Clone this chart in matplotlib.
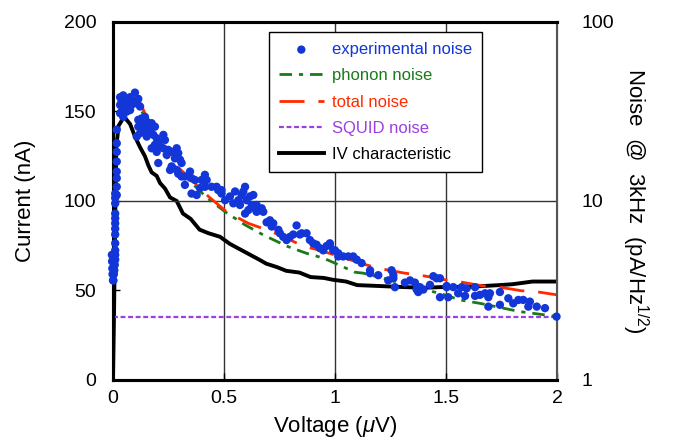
import matplotlib
matplotlib.use("Agg")
import matplotlib.pyplot as plt
from matplotlib.ticker import FixedLocator, FixedFormatter, NullLocator

plt.rcParams['font.family'] = ['Liberation Sans', 'DejaVu Sans']
plt.rcParams['mathtext.fontset'] = 'custom'
plt.rcParams['mathtext.rm'] = 'Liberation Sans'
plt.rcParams['mathtext.it'] = 'Liberation Sans:italic'

# IV characteristic: voltage (uV) vs current (nA)
iv_v = [0, 0.005, 0.01, 0.015, 0.025, 0.05, 0.077, 0.099, 0.122, 0.144, 0.159, 0.174,
        0.197, 0.212, 0.234, 0.257, 0.287, 0.315, 0.35, 0.39, 0.43, 0.482, 0.527, 0.572,
        0.632, 0.662, 0.69, 0.74, 0.78, 0.84, 0.89, 0.95, 0.99, 1.05, 1.1, 1.2, 1.29,
        1.4, 1.5, 1.6, 1.74, 1.8, 1.89, 2.0]
iv_i = [0, 40, 90, 130, 142, 147, 143, 136, 130, 125, 120, 116,
        114, 110, 107, 102, 100, 93, 90, 84, 82, 80, 76, 73,
        69, 67, 65, 63, 61, 60, 57.5, 57, 56, 55, 53, 52.5, 52,
        51.5, 52, 52, 53, 53.5, 55, 55]

# total noise model (pA/Hz^1/2)
tot_v = [0.12, 0.144, 0.257, 0.369, 0.43, 0.512, 0.61, 0.692, 0.745, 0.857, 0.932, 1.02,
         1.14, 1.2, 1.315, 1.375, 1.495, 1.555, 1.668, 1.728, 1.841, 1.909, 2.0]
tot_n = [35.9, 30.9, 17.0, 12.6, 10.6, 8.7, 7.5, 6.9, 6.5, 5.6, 5.3, 4.9,
         4.4, 4.2, 3.95, 3.87, 3.63, 3.55, 3.35, 3.32, 3.15, 3.11, 2.99]

# phonon noise model
pho_v = [0.13, 0.174, 0.249, 0.42, 0.505, 0.595, 0.677, 0.782, 0.872, 0.947, 0.99, 1.09,
         1.128, 1.218, 1.3, 1.383, 1.443, 1.473, 1.563, 1.653, 1.833, 1.923, 2.0]
pho_n = [31.6, 25.0, 17.0, 10.5, 8.7, 7.35, 6.46, 5.6, 5.1, 4.8, 4.55, 4.0,
         3.95, 3.7, 3.47, 3.25, 3.11, 3.05, 2.8, 2.68, 2.41, 2.33, 2.26]

# SQUID noise level
squid_v = [0, 2.0]
squid_n = [2.25, 2.25]

# experimental noise points
exp_v = [0.032, 0.046, 0.039, 0.062, 0.077, 0.099, 0.092, 0.114, 0.107, 0.069, 0.054, 0.032,
         0.077, 0.084, 0.062, 0.039, 0.122, 0.032, 0.046,
         0.114, 0.129, 0.144, 0.152, 0.159, 0.137, 0.114, 0.174, 0.189, 0.144, 0.167, 0.182,
         0.152, 0.122, 0.107, 0.197, 0.204, 0.227, 0.234, 0.189, 0.212, 0.174, 0.197, 0.227,
         0.249, 0.242, 0.264, 0.287, 0.294, 0.279, 0.302, 0.309, 0.264, 0.257, 0.287, 0.204,
         0.324, 0.347, 0.309, 0.294, 0.354, 0.324, 0.369, 0.399, 0.414, 0.422, 0.414, 0.392,
         0.444, 0.467, 0.474, 0.377, 0.354, 0.489,
         0.489, 0.505, 0.527, 0.542, 0.550, 0.565, 0.580, 0.595, 0.587, 0.572, 0.602, 0.617,
         0.625, 0.632, 0.640, 0.647, 0.610, 0.595, 0.662, 0.677, 0.647, 0.670, 0.692, 0.707,
         0.722, 0.715, 0.745, 0.752, 0.767, 0.782, 0.797, 0.812, 0.827, 0.842, 0.850, 0.872,
         0.887, 0.902, 0.917, 0.932, 0.947, 0.962, 0.977, 0.992, 1.015,
         0.977, 1.0, 1.015, 1.037, 1.06, 1.082, 1.098, 1.12, 1.158, 1.158, 1.195, 1.24,
         1.255, 1.263, 1.263, 1.27, 1.315, 1.338, 1.36, 1.368, 1.383, 1.375, 1.398, 1.428,
         1.443, 1.458, 1.473, 1.503,
         1.473, 1.503, 1.533, 1.571, 1.593, 1.631, 1.51, 1.555, 1.586, 1.631, 1.653, 1.676,
         1.698, 1.691, 1.743, 1.691, 1.743, 1.781, 1.803, 1.826, 1.848, 1.878, 1.871, 1.909,
         1.946, 1.998,
         0.017, 0.017, 0.017, 0.017, 0.017, 0.017, 0.017, 0.017,
         0.01, 0.01, 0.01, 0.01, 0.01, 0.01, 0.01, 0.01, 0.01, 0.01, 0.01, 0.01,
         0.008, 0.006, 0.004, 0.002,
         -0.005, -0.004, -0.003, -0.002, 0.0, 0.002]
exp_n = [38.0, 38.9, 36.3, 37.2, 38.0, 40.3, 36.3, 37.2, 35.1, 35.1, 33.7, 34.4,
         32.2, 34.4, 31.6, 31.6, 33.7, 30.9, 29.5,
         28.4, 28.9, 29.5, 27.7, 26.0, 26.6, 26.0, 27.2, 26.0, 25.0, 24.4, 23.4,
         22.9, 23.9, 22.9, 22.4, 21.4, 23.4, 21.9, 20.6, 20.1, 19.7, 18.8, 19.7,
         19.3, 18.1, 18.8, 19.7, 18.5, 17.3, 17.0, 16.3, 15.6, 14.9, 14.9, 16.3,
         13.7, 14.6, 13.7, 14.2, 13.4, 12.3, 13.1, 13.1, 14.0, 13.1, 12.0, 11.8,
         12.0, 12.0, 11.5, 10.8, 11.0, 11.0,
         11.5, 10.1, 10.6, 9.7, 11.3, 10.1, 10.8, 12.0, 11.3, 9.5, 10.1, 10.6,
         9.5, 10.8, 9.1, 8.7, 8.9, 8.5, 8.9, 8.7, 9.5, 9.1, 7.6, 7.8,
         7.5, 7.2, 6.9, 6.6, 6.3, 6.05, 6.3, 6.5, 7.3, 6.5, 6.6, 6.6,
         6.05, 5.8, 5.7, 5.45, 5.3, 5.6, 5.8, 5.3, 5.1,
         5.7, 5.3, 4.9, 4.9, 4.9, 4.9, 4.7, 4.5, 4.1, 3.95, 3.85, 3.6,
         4.1, 3.85, 3.7, 3.3, 3.5, 3.6, 3.5, 3.2, 3.3, 3.1, 3.2, 3.4,
         3.8, 3.7, 2.9, 3.3,
         3.7, 3.35, 3.3, 3.3, 3.25, 3.3, 2.9, 3.05, 2.95, 2.95, 2.99, 3.05,
         3.05, 2.9, 3.1, 2.57, 2.63, 2.86, 2.68, 2.8, 2.8, 2.74, 2.57, 2.57,
         2.52, 2.26,
         25.0, 21.0, 18.8, 16.6, 14.6, 13.4, 12.0, 10.8,
         11.0, 10.4, 9.7, 8.5, 8.0, 7.5, 7.0, 6.5, 5.8, 5.3, 5.0, 4.7,
         4.4, 4.1, 3.9, 3.6,
         5.0, 4.6, 4.2, 3.9, 3.6, 4.8]

blue = '#1236d8'
green = '#1a7a1a'
red = '#ff2a00'
purple = '#9b3fe0'

fig = plt.figure(figsize=(6.86, 4.42), dpi=100)
ax = fig.add_axes([0.1647, 0.1403, 0.6472, 0.81])
ax2 = ax.twinx()

# IV on the linear current axis
iv_line, = ax.plot(iv_v, iv_i, color='black', lw=2.8, zorder=3, solid_joinstyle='miter')
ax.set_xlim(0, 2)
ax.set_ylim(0, 200)
ax.set_xticks([0, 0.5, 1, 1.5, 2])
ax.set_xticklabels(['0', '0.5', '1', '1.5', '2'])
ax.set_yticks([0, 50, 100, 150, 200])
ax.tick_params(axis='both', direction='in', labelsize=14, length=5, width=1)
ax.tick_params(axis='x', pad=7)
ax.tick_params(axis='y', pad=12)
ax.grid(axis='x', color='#333333', lw=1)
ax.set_xlabel(r'Voltage ($\mathit{\mu}$V)', fontsize=16, labelpad=5)
ax.set_ylabel('Current (nA)', fontsize=16, labelpad=20)

# noise on the log axis
ax2.set_yscale('log')
ax2.set_ylim(1, 100)
ax2.yaxis.set_major_locator(FixedLocator([1, 10, 100]))
ax2.yaxis.set_major_formatter(FixedFormatter(['1', '10', '100']))
ax2.yaxis.set_minor_locator(NullLocator())
ax2.tick_params(axis='y', length=0, labelsize=14, pad=18)
ax2.grid(axis='y', color='#333333', lw=1)
sq_line, = ax2.plot(squid_v, squid_n, color=purple, lw=1.6, dashes=(2.2, 1.2))
pho_line, = ax2.plot(pho_v, pho_n, color=green, lw=2, dashes=(4.5, 2.5, 1.5, 2.5))
tot_line, = ax2.plot(tot_v, tot_n, color=red, lw=2, dashes=(9, 5))
exp_pts = ax2.scatter(exp_v, exp_n, s=36, color=blue, edgecolors='none', zorder=5, clip_on=False)
ax2.set_ylabel(r'Noise  @  3kHz  (pA/Hz$^{1/2}$)', fontsize=16, rotation=270, labelpad=26)

for sp in ['left', 'top', 'bottom']:
    ax.spines[sp].set_linewidth(2.2)
    ax2.spines[sp].set_linewidth(2.2)
ax2.spines['right'].set_color('#555555')
ax2.spines['right'].set_linewidth(1.5)

leg = ax2.legend([exp_pts, pho_line, tot_line, sq_line, iv_line],
                 ['experimental noise', 'phonon noise', 'total noise', 'SQUID noise', 'IV characteristic'],
                 loc='upper left', bbox_to_anchor=(0.351, 0.972), borderaxespad=0, fontsize=12,
                 frameon=True, fancybox=False, edgecolor='black', framealpha=1,
                 handlelength=2.7, handletextpad=0.5, labelspacing=0.68, borderpad=0.6,
                 scatterpoints=1)
leg.get_frame().set_linewidth(1)
for txt, c in zip(leg.get_texts(), [blue, green, red, purple, 'black']):
    txt.set_color(c)

fig.savefig('out.png', dpi=100)
